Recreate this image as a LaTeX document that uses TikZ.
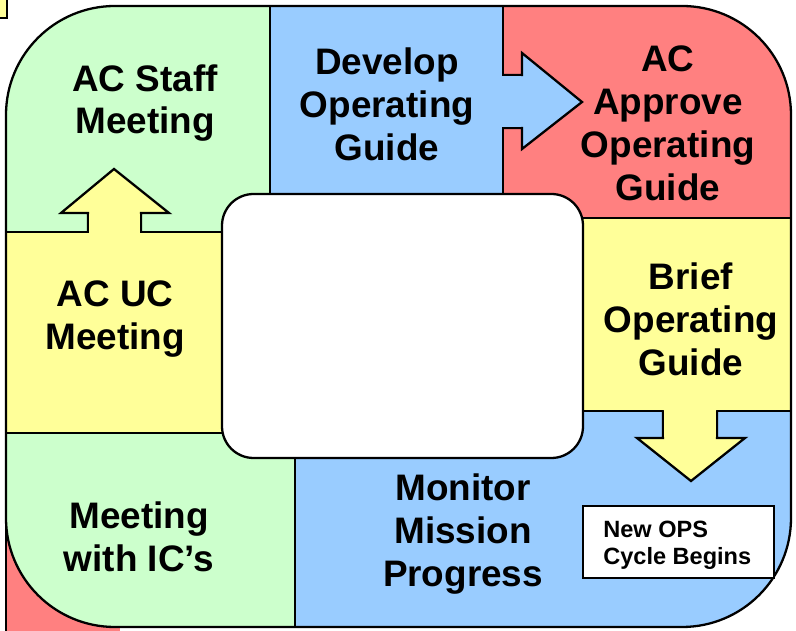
\documentclass[tikz,border=0pt]{standalone}
\usepackage{fontspec}
\setmainfont{Liberation Sans}
\definecolor{cgreen}{HTML}{CCFFCC}
\definecolor{cblue}{HTML}{99CCFF}
\definecolor{cred}{HTML}{FF8080}
\definecolor{cyellow}{HTML}{FFFF99}
\begin{document}
\begin{tikzpicture}[x=0.02cm,y=-0.02cm,
  edge/.style={line width=1.3pt, line join=miter},
  lbl/.style={font=\bfseries\fontsize{21}{24.4}\selectfont, align=center, inner sep=0pt},
  small/.style={font=\bfseries\fontsize{13.4}{15.3}\selectfont, align=left, inner sep=0pt},
  opsbox/.style={draw=black, fill=white, line width=1pt, minimum width=108.3pt, minimum height=40.8pt, inner sep=0pt}]
\useasboundingbox (0,0) rectangle (796,631);
% stray pieces at the corners
\fill[cred] (6,517) rectangle (120,631);
\draw[edge] (6,517) -- (6,631);
\filldraw[fill=cyellow, edge] (-5,-5) rectangle (7,18);
% coloured regions
\begin{scope}
  \clip[rounded corners=62pt] (6,6) rectangle (791,627);
  \fill[cgreen]  (0,0) rectangle (270,232);
  \fill[cblue]   (270,0) rectangle (503,218);
  \fill[cred]    (503,0) rectangle (796,218);
  \fill[cyellow] (503,218) rectangle (796,411);
  \fill[cblue]   (295,411) rectangle (796,631);
  \fill[cyellow] (0,232) rectangle (222,433);
  \fill[cgreen]  (0,433) rectangle (295,631);
\end{scope}
% boundaries
\draw[edge] (270,6) -- (270,200);
\draw[edge] (503,6) -- (503,218) -- (791,218);
\draw[edge] (560,411) -- (791,411);
\draw[edge] (295,450) -- (295,627);
\draw[edge] (6,232) -- (230,232);
\draw[edge] (6,433) -- (230,433);
% block arrows
\filldraw[fill=cyellow, edge] (88,232) -- (88,213) -- (61,213) -- (114,169) -- (169,213) -- (141,213) -- (141,232);
\fill[cyellow] (89.3,214) rectangle (139.7,235);
\filldraw[fill=cblue, edge] (503,75) -- (522,75) -- (522,53) -- (582,102) -- (522,149) -- (522,128) -- (503,128);
\fill[cblue] (500,76.3) rectangle (520.7,126.7);
\filldraw[fill=cyellow, edge] (663,411) -- (663,438) -- (637,438) -- (691,481) -- (745,438) -- (717,438) -- (717,411);
\fill[cyellow] (664.3,408) rectangle (715.7,436.7);
% outer border
\draw[edge, rounded corners=62pt] (6,6) rectangle (791,627);
% centre box
\draw[edge, fill=white, rounded corners=18pt] (222,194) rectangle (583,458);
% labels
\node[lbl] (staff)   at (145,103) {AC Staff\\Meeting};
\node[lbl] (develop) at (387,104) {Develop\\Operating\\Guide};
\node[lbl] (approve) at (668,123) {AC\\Approve\\Operating\\Guide};
\node[lbl] (brief)   at (691,319) {Brief\\Operating\\Guide};
\node[lbl] (ucmeet)  at (115,319) {AC UC\\Meeting};
\node[lbl] (icmeet)  at (139,537) {Meeting\\with IC’s};
\node[lbl] (monitor) at (463,534) {Monitor\\Mission\\Progress};
\node[opsbox] (newops) at (678.5,542) {};
\node[small, anchor=west] (newopstext) at (603,545) {New OPS\\Cycle Begins};
\end{tikzpicture}
\end{document}
